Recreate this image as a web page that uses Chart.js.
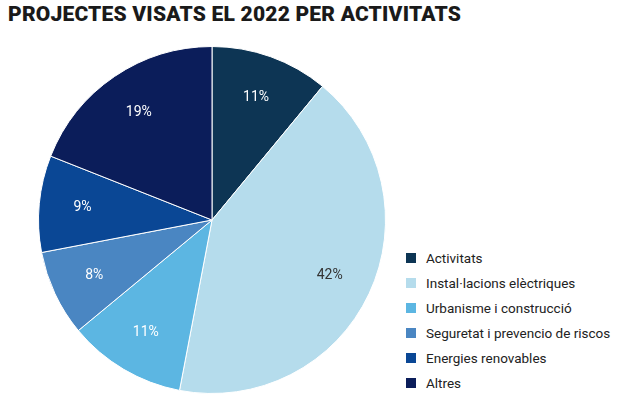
<!DOCTYPE html>
<html><head><meta charset="utf-8">
<script src="https://cdn.jsdelivr.net/npm/chart.js@4"></script>
<style>
body{margin:0;background:#fff;width:630px;height:420px;position:relative;overflow:hidden;font-family:Roboto,sans-serif}
h1{position:absolute;left:8px;top:2px;margin:0;font-size:21px;font-weight:900;color:#1a1a1a;letter-spacing:0.2px}
#c{position:absolute;left:38px;top:46px}
#legend{position:absolute;left:406px;top:245px;font-size:13.5px;color:#222}
#legend div{height:25px;display:flex;align-items:center}
#legend span{display:inline-block;width:10px;height:10px;margin-right:10px}
</style></head><body>
<h1>PROJECTES VISATS EL 2022 PER ACTIVITATS</h1>
<canvas id="c" width="348" height="348"></canvas>
<div id="legend"></div>
<script>
const categories = ['Activitats', 'Instal·lacions elèctriques', 'Urbanisme i construcció', 'Seguretat i prevencio de riscos', 'Energies renovables', 'Altres'];
const values = [11, 42, 11, 8, 9, 19];
const colors = ['#0d3554', '#b5dcec', '#5cb6e2', '#4a86c2', '#0a4795', '#0b1d5a'];
const labelColors = ['#fff', '#333', '#fff', '#fff', '#fff', '#fff'];

const lg = document.getElementById('legend');
categories.forEach((c, i) => {
  const d = document.createElement('div');
  d.innerHTML = `<span style="background:${colors[i]}"></span>${c}`;
  lg.appendChild(d);
});

const pctLabels = {
  id: 'pctLabels',
  afterDatasetsDraw(chart) {
    const ctx = chart.ctx;
    chart.getDatasetMeta(0).data.forEach((arc, i) => {
      const p = arc.getProps(['x', 'y', 'startAngle', 'endAngle', 'outerRadius'], true);
      const a = (p.startAngle + p.endAngle) / 2;
      const r = p.outerRadius * 0.75;
      ctx.save();
      ctx.fillStyle = labelColors[i];
      ctx.font = '14px Roboto, sans-serif';
      ctx.textAlign = 'center';
      ctx.textBaseline = 'middle';
      ctx.fillText(values[i] + '%', p.x + Math.cos(a) * r, p.y + Math.sin(a) * r);
      ctx.restore();
    });
  }
};

new Chart(document.getElementById('c'), {
  type: 'pie',
  data: { labels: categories, datasets: [{ data: values, backgroundColor: colors, borderColor: '#fff', borderWidth: 1 }] },
  options: {
    responsive: false, animation: false,
    plugins: { legend: { display: false }, tooltip: { enabled: false } }
  },
  plugins: [pctLabels]
});
</script>
</body></html>
